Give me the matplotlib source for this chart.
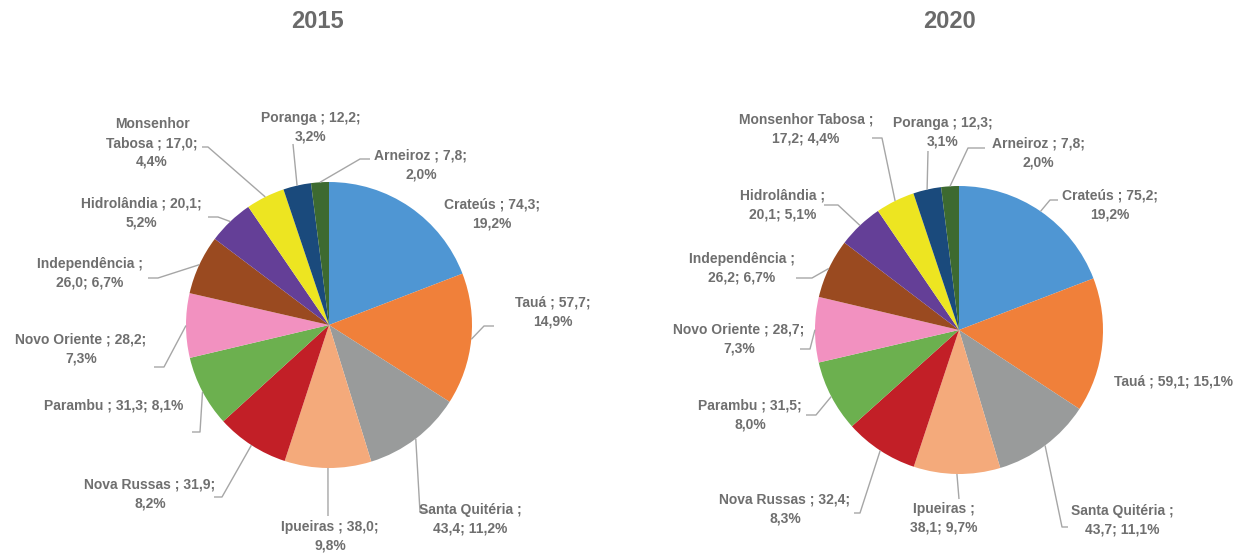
import textwrap
import numpy as np
import matplotlib
matplotlib.use("Agg")
from matplotlib import pyplot as plt

# data
towns = ["Crateús", "Tauá", "Santa Quitéria", "Ipueiras", "Nova Russas", "Parambu",
         "Novo Oriente", "Independência", "Hidrolândia", "Monsenhor Tabosa", "Poranga", "Arneiroz"]
vals_2015 = [74.3, 57.7, 43.4, 38.0, 31.9, 31.3, 28.2, 26.0, 20.1, 17.0, 12.2, 7.8]
pct_2015 = [19.2, 14.9, 11.2, 9.8, 8.2, 8.1, 7.3, 6.7, 5.2, 4.4, 3.2, 2.0]
vals_2020 = [75.2, 59.1, 43.7, 38.1, 32.4, 31.5, 28.7, 26.2, 20.1, 17.2, 12.3, 7.8]
pct_2020 = [19.2, 15.1, 11.1, 9.7, 8.3, 8.0, 7.3, 6.7, 5.1, 4.4, 3.1, 2.0]
years = ["2015", "2020"]

colors = ["#4F96D3", "#F0803A", "#999B9B", "#F4AA7B", "#C21F27", "#6CB04F",
          "#F291C0", "#9A4A20", "#643F97", "#EDE521", "#1A4A7C", "#3D6A30"]

W, H = 1240, 556
txt_col = "#6F6F6F"
line_col = "#A6A6A6"

# layout (pixel coords, y down): pie center / radius, title, and per label:
# (text x, text y, wrap width, elbow x, elbow y, end x)  -- None = no leader
pies = [(329, 325, 143, 317), (959, 330, 144, 950)]
lab_2015 = [
    (492, 214, 15, None),
    (553, 312, 12, (484, 326, 494)),
    (470, 519, 16, (420, 512, 428)),
    (330, 536, 16, (328, 516, 328)),
    (150, 494, 19, (222, 497, 214)),
    (114, 406, 30, (200, 432, 192)),
    (81, 349, 20, (164, 367, 154)),
    (90, 273, 15, (158, 278, 148)),
    (141, 213, 19, (218, 217, 208)),
    (152, 143, 14, (208, 147, 202)),
    (311, 127, 15, (293, 144, 293)),
    (421, 165, 15, (360, 159, 370)),
]
lab_2020 = [
    (1110, 205, 15, (1050, 200, 1058)),
    (1173, 381, 30, None),
    (1122, 520, 16, (1062, 527, 1068)),
    (944, 518, 10, (959, 499, 959)),
    (785, 509, 19, (860, 513, 854)),
    (750, 415, 15, (816, 415, 806)),
    (739, 339, 20, (810, 349, 800)),
    (742, 268, 15, (812, 278, 796)),
    (783, 205, 13, (838, 205, 824)),
    (806, 129, 18, (882, 138, 872)),
    (943, 132, 15, (928, 151, 928)),
    (1038, 153, 15, (968, 148, 985)),
]

plt.rcParams['font.family'] = ['Liberation Sans', 'DejaVu Sans']

fig = plt.figure(figsize=(W / 100, H / 100), dpi=100)
ax = fig.add_axes([0, 0, 1, 1])

def fmt(v):
    return ("%.1f" % v).replace(".", ",")

for (cx, cy, r, tx), yr, vals, pcts, labs in zip(pies, years, [vals_2015, vals_2020],
                                                 [pct_2015, pct_2020], [lab_2015, lab_2020]):
    wedges, _ = ax.pie(vals, colors=colors, startangle=90, counterclock=False,
                       center=(cx, H - cy), radius=r, wedgeprops=dict(linewidth=0))
    ax.text(tx, H - 21, yr, ha="center", va="center", fontsize=17,
            fontweight="bold", color="#6A6A6A")
    for w, name, v, p, lab in zip(wedges, towns, vals, pcts, labs):
        lx, ly, wrap, lead = lab
        s = textwrap.fill("%s ; %s; %s%%" % (name, fmt(v), fmt(p)), width=wrap)
        ax.text(lx, H - ly, s, ha="center", va="center", fontsize=10,
                fontweight="bold", color=txt_col, linespacing=1.45)
        if lead is not None:
            ang = np.deg2rad((w.theta1 + w.theta2) / 2)
            sx, sy = cx + r * np.cos(ang), (H - cy) + r * np.sin(ang)
            ex, ey, hx = lead
            ax.plot([sx, ex, hx], [sy, H - ey, H - ey], color=line_col, lw=1.0,
                    solid_capstyle="butt")

ax.set_xlim(0, W)
ax.set_ylim(0, H)
ax.set_aspect("equal")
ax.axis("off")

fig.savefig("out.png", dpi=100, facecolor="white")
